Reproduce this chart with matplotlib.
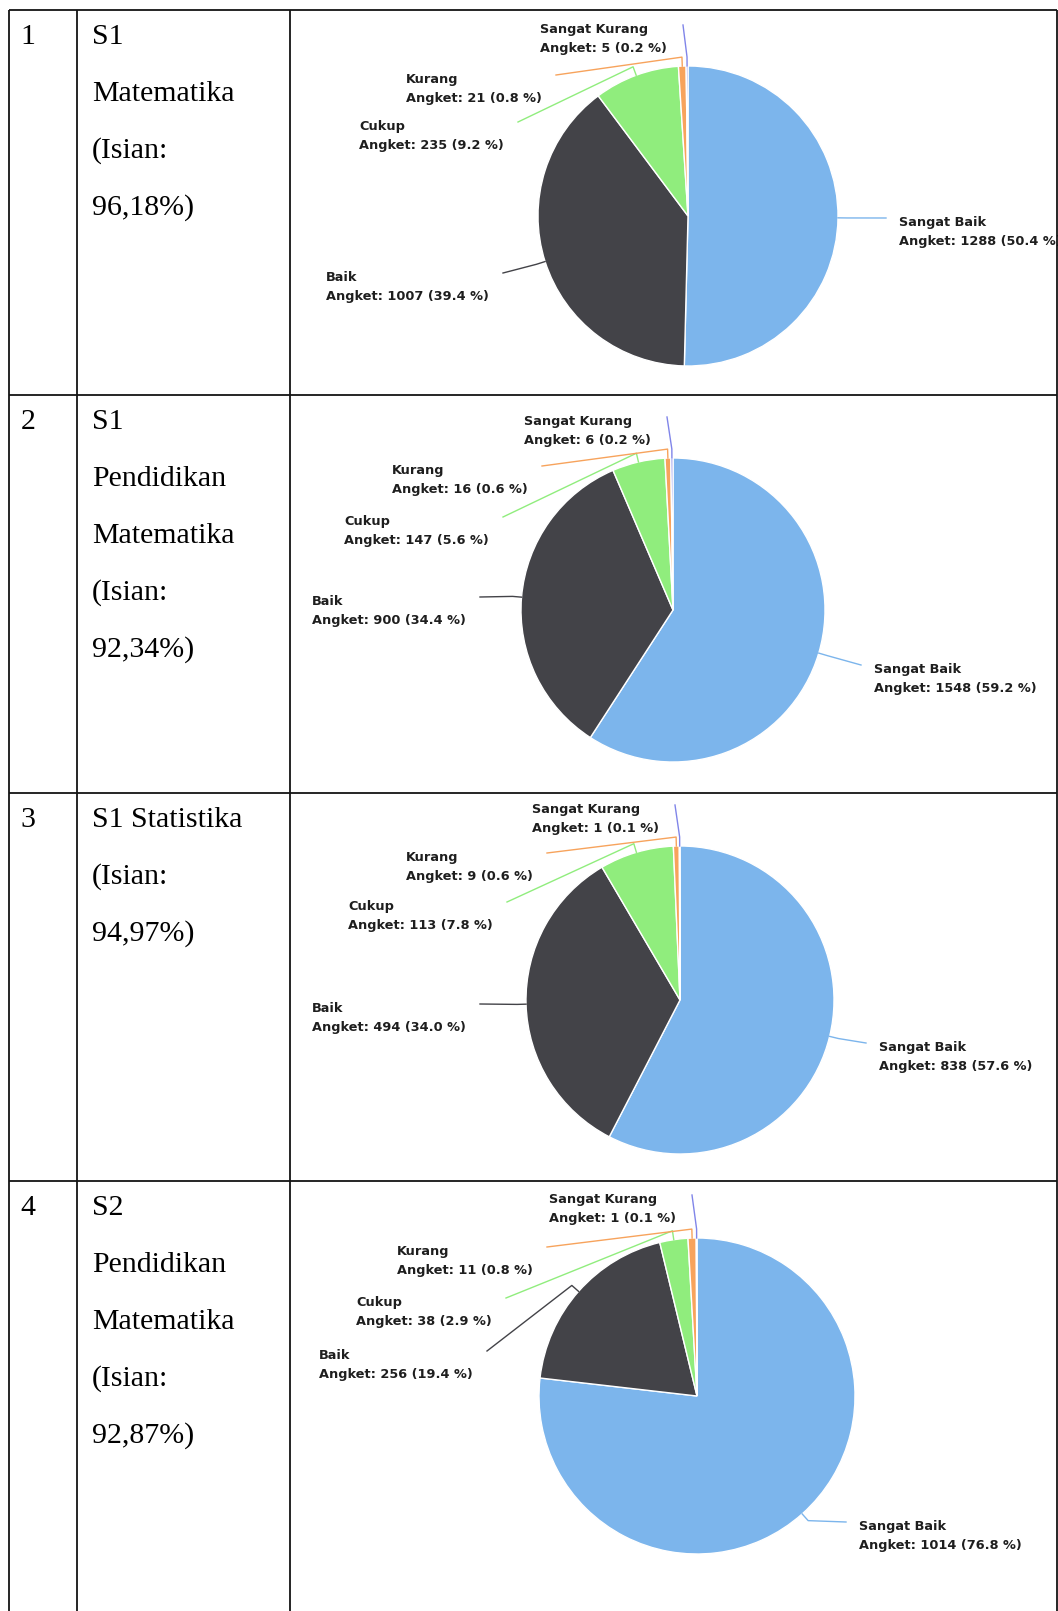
import matplotlib
matplotlib.use("Agg")
import matplotlib.pyplot as plt
import numpy as np

# ---------------- data ----------------
categories = ["Sangat Baik", "Baik", "Cukup", "Kurang", "Sangat Kurang"]
row_numbers = ["1", "2", "3", "4"]
program_lines = [
    ["S1", "Matematika", "(Isian:", "96,18%)"],
    ["S1", "Pendidikan", "Matematika", "(Isian:", "92,34%)"],
    ["S1 Statistika", "(Isian:", "94,97%)"],
    ["S2", "Pendidikan", "Matematika", "(Isian:", "92,87%)"],
]
counts_s1_matematika = [1288, 1007, 235, 21, 5]
counts_s1_pend_matematika = [1548, 900, 147, 16, 6]
counts_s1_statistika = [838, 494, 113, 9, 1]
counts_s2_pend_matematika = [1014, 256, 38, 11, 1]
all_counts = [counts_s1_matematika, counts_s1_pend_matematika,
              counts_s1_statistika, counts_s2_pend_matematika]

# ---------------- style / layout (pixels) ----------------
colors = ["#7cb5ec", "#434348", "#90ed7d", "#f7a35c", "#8085e9"]
W, H = 1058, 1611
col_x = [9, 77, 290, 1057]
row_y = [10, 395, 793, 1181]
pie_centers = [(688, 216), (673, 610), (680, 1000), (697, 1396)]
pie_radii = [150, 152, 154, 158]
label_ends = [
    [(886, 218), (503, 273), (518, 122), (556, 75), (683, 25)],
    [(861, 665), (480, 597), (503, 517), (542, 466), (667, 417)],
    [(866, 1043), (480, 1004), (507, 902), (547, 853), (675, 805)],
    [(846, 1522), (487, 1351), (506, 1298), (547, 1247), (692, 1195)],
]
line_step = 57
first_baseline = 34
serif = "Liberation Serif"
serif_size = 21.5
lab_size = 9.3
lab_color = "#1e1e1e"

fig = plt.figure(figsize=(W / 100, H / 100), dpi=100)
ax = fig.add_axes([0, 0, 1, 1])
ax.set_xlim(0, W)
ax.set_ylim(H, 0)
ax.axis("off")
renderer = fig.canvas.get_renderer()

# table grid
lc = "#141414"
for x in col_x:
    ax.plot([x, x], [row_y[0], H], color=lc, lw=1.3, zorder=10, solid_capstyle="butt")
for y in row_y:
    ax.plot([col_x[0], col_x[-1]], [y, y], color=lc, lw=1.3, zorder=10, solid_capstyle="butt")

# text columns
for i, top in enumerate(row_y):
    ax.text(28, top + first_baseline, row_numbers[i], family=serif, size=serif_size,
            ha="center", va="baseline", color="black")
    for j, s in enumerate(program_lines[i]):
        ax.text(92, top + first_baseline + j * line_step, s, family=serif, size=serif_size,
                ha="left", va="baseline", color="black")

# pies
for i, counts in enumerate(all_counts):
    vals = np.array(counts, dtype=float)
    cx, cy = pie_centers[i]
    r = pie_radii[i]
    ax.pie(vals, colors=colors, startangle=270, counterclock=True, center=(cx, cy),
           radius=r, frame=True,
           wedgeprops=dict(edgecolor="white", linewidth=1.0))
    fracs = vals / vals.sum()
    mids = np.cumsum(fracs) - fracs / 2
    theta = np.deg2rad(270 + 360 * mids)
    for k, cat in enumerate(categories):
        c, s = np.cos(theta[k]), np.sin(theta[k])
        p0 = (cx + r * c, cy + r * s)
        p1 = (cx + (r + 9) * c, cy + (r + 9) * s)
        ex, ey = label_ends[i][k]
        ax.plot([p0[0], p1[0], ex], [p0[1], p1[1], ey], color=colors[k], lw=1.0,
                zorder=3, solid_joinstyle="round")
        pct = 100 * fracs[k]
        lines = [cat, f"Angket: {int(counts[k])} ({pct:.1f} %)"]
        right_side = ex > cx + 20
        b1 = ey + 8
        b2 = ey + 27
        if right_side:
            x0 = ex + 13
        else:
            ws = []
            for ln in lines:
                t = ax.text(0, 0, ln, size=lab_size, weight="bold", family="DejaVu Sans")
                ws.append(t.get_window_extent(renderer).width)
                t.remove()
            gap = 16 if k == 4 else 14
            x0 = ex - gap - max(ws)
        ax.text(x0, b1, lines[0], size=lab_size, weight="bold", family="DejaVu Sans",
                color=lab_color, ha="left", va="baseline", zorder=5)
        ax.text(x0, b2, lines[1], size=lab_size, weight="bold", family="DejaVu Sans",
                color=lab_color, ha="left", va="baseline", zorder=5)

ax.set_xlim(0, W)
ax.set_ylim(H, 0)
ax.set_aspect("auto")
ax.axis("off")
fig.savefig("out.png", dpi=100, facecolor="white")
